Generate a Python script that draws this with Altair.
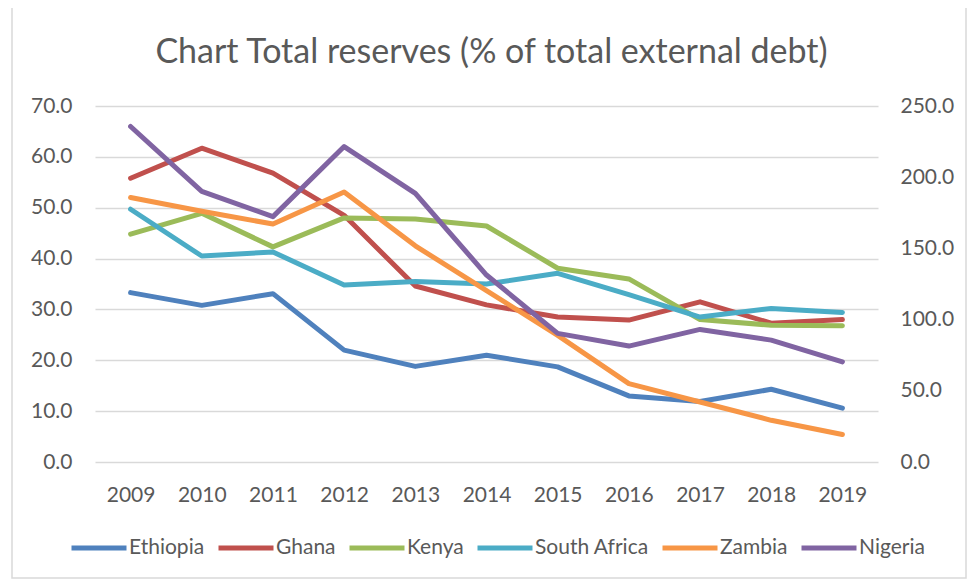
import altair as alt
import pandas as pd

years = ["2009", "2010", "2011", "2012", "2013", "2014", "2015", "2016", "2017", "2018", "2019"]
countries = ["Ethiopia", "Ghana", "Kenya", "South Africa", "Zambia", "Nigeria"]
colors = ["#4F81BD", "#C0504D", "#9BBB59", "#4BACC6", "#F79646", "#8064A2"]

ethiopia = [33.3, 30.8, 33.1, 22.0, 18.8, 21.0, 18.7, 13.0, 11.9, 14.3, 10.6]
ghana = [55.8, 61.7, 56.8, 48.5, 34.6, 30.9, 28.5, 27.9, 31.5, 27.3, 28.0]
kenya = [44.8, 48.9, 42.3, 48.0, 47.8, 46.4, 38.1, 36.0, 28.0, 26.9, 26.8]
south_africa = [49.7, 40.5, 41.3, 34.8, 35.5, 35.0, 37.1, 32.9, 28.5, 30.2, 29.4]
zambia = [52.0, 49.3, 46.8, 53.1, 42.5, 33.7, 24.9, 15.4, 11.8, 8.2, 5.4]
nigeria_right = [235.6, 190.0, 172.3, 221.5, 188.7, 131.3, 90.3, 81.4, 93.1, 85.6, 70.3]

left_ticks = [0, 10, 20, 30, 40, 50, 60, 70]
right_ticks = [0, 50, 100, 150, 200, 250]

title_text = "Chart Total reserves (% of total external debt)"

left_series = [ethiopia, ghana, kenya, south_africa, zambia]
rows = []
for c, vals in zip(countries[:5], left_series):
    for y, v in zip(years, vals):
        rows.append({"year": y, "country": c, "value": v})
df_left = pd.DataFrame(rows)
df_right = pd.DataFrame({"year": years, "country": ["Nigeria"] * len(years), "value": nigeria_right})

FONT = "Lato"
TXT = "#595959"

x_enc = alt.X(
    "year:O",
    scale=alt.Scale(type="point", padding=0.5),
    axis=alt.Axis(title=None, labelAngle=0, domain=False, ticks=False, grid=False,
                  labelPadding=22, labelFontSize=21, labelFont=FONT, labelColor=TXT),
)

color_enc = alt.Color(
    "country:N",
    scale=alt.Scale(domain=countries, range=colors),
    sort=countries,
    legend=alt.Legend(
        title=None, orient="none", legendX=-26, legendY=412, direction="horizontal",
        columns=6, symbolType="stroke", symbolSize=3025, symbolStrokeWidth=5,
        labelFontSize=21, labelFont=FONT, labelColor=TXT, columnPadding=3, labelOffset=0,
    ),
)

line_kw = dict(strokeWidth=5, strokeCap="round", strokeJoin="round")

left = alt.Chart(df_left).mark_line(**line_kw).encode(
    x=x_enc,
    y=alt.Y("value:Q", scale=alt.Scale(domain=[0, 70]),
            axis=alt.Axis(title=None, orient="left", values=left_ticks, format=".1f",
                          domain=False, ticks=False, grid=True, gridColor="#D9D9D9",
                          gridWidth=1.5, labelPadding=23, labelFontSize=21,
                          labelFont=FONT, labelColor=TXT)),
    color=color_enc,
)

right = alt.Chart(df_right).mark_line(**line_kw).encode(
    x=x_enc,
    y=alt.Y("value:Q", scale=alt.Scale(domain=[0, 250]),
            axis=alt.Axis(title=None, orient="right", values=right_ticks, format=".1f",
                          domain=False, ticks=False, grid=False, labelPadding=22,
                          labelFontSize=21, labelFont=FONT, labelColor=TXT)),
    color=color_enc,
)

border = alt.Chart(pd.DataFrame({"k": [0]})).mark_rect(
    fill="transparent", stroke="#D9D9D9", strokeWidth=1.5
).encode(x=alt.value(-83), x2=alt.value(871), y=alt.value(-99), y2=alt.value(472))

chart = (
    alt.layer(border, left, right)
    .resolve_scale(y="independent")
    .properties(
        width=783, height=356,
        title=alt.TitleParams(title_text, fontSize=34, font=FONT, color=TXT,
                              fontWeight="normal", anchor="middle", offset=-64, dx=5),
        autosize=alt.AutoSizeParams(type="none"),
        padding={"left": 87, "top": 98, "right": 89, "bottom": 117},
        background="white",
    )
    .configure_view(strokeWidth=0)
)

chart.save("out.html", embed_options={"renderer": "svg", "actions": False})
